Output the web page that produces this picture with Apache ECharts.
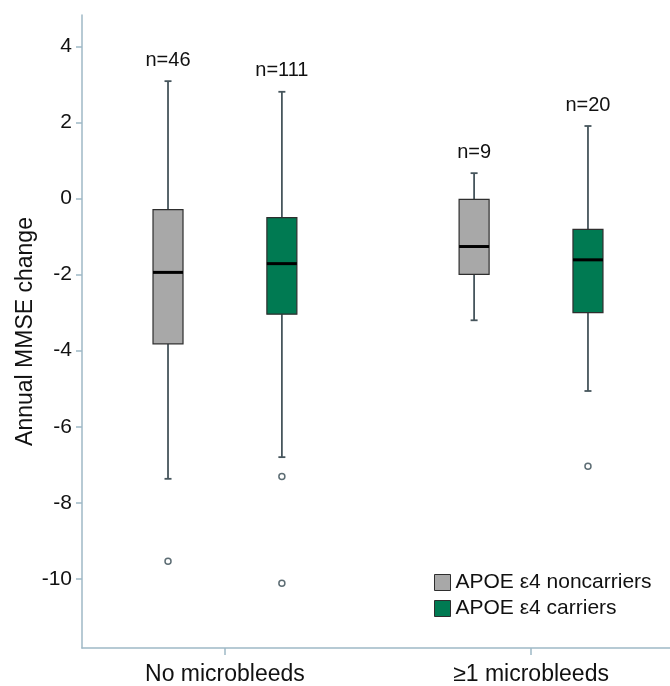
<!DOCTYPE html>
<html lang="en">
<head>
    <meta charset="UTF-8">
    <title>Annual MMSE change</title>
    <script src="https://cdn.jsdelivr.net/npm/echarts@6/dist/echarts.min.js"></script>
</head>
<body style="margin:0;background:#fff">
    <div id="main" style="width:670px;height:686px;"></div>
    <script>
        // x groups and y tick labels
        var groups = ['No microbleeds', '≥1 microbleeds'];
        var yTicks = [-10, -8, -6, -4, -2, 0, 2, 4];

        // box values per group: [min, Q1, median, Q3, max]
        var noncarrierBox = [[-7.37, -3.82, -1.94, -0.29, 3.09], [-3.2, -1.99, -1.26, -0.02, 0.67]];
        var carrierBox = [[-6.8, -3.04, -1.71, -0.5, 2.81], [-5.06, -3.0, -1.61, -0.81, 1.91]];
        var noncarrierN = [46, 9];
        var carrierN = [111, 20];
        // outliers: [group, value]
        var noncarrierOut = [[0, -9.54]];
        var carrierOut = [[0, -7.31], [0, -10.12], [1, -7.04]];

        var font = 'Liberation Sans, Arial, sans-serif';
        var txt = '#111';
        var axisCol = '#9fb9c6';
        var whisker = '#46555c';

        function boxData(box, n) {
            return box.map(function (b, i) { return [i].concat(b).concat([n[i]]); });
        }

        // side: -1 left box, +1 right box
        function boxRenderer(side, fill) {
            return function (params, api) {
                var g = api.value(0);
                var unit = api.size([1, 0])[0];
                var cx = api.coord([g, 0])[0] + side * 0.186 * unit;
                var y = function (d) { return api.coord([g, api.value(d)])[1]; };
                var yMin = y(1), yQ1 = y(2), yMed = y(3), yQ3 = y(4), yMax = y(5);
                var half = 15, cap = 3.5;
                var ls = { stroke: whisker, lineWidth: 1.8 };
                return {
                    type: 'group',
                    children: [
                        { type: 'line', shape: { x1: cx, y1: yMax, x2: cx, y2: yQ3 }, style: ls },
                        { type: 'line', shape: { x1: cx, y1: yQ1, x2: cx, y2: yMin }, style: ls },
                        { type: 'line', shape: { x1: cx - cap, y1: yMax, x2: cx + cap, y2: yMax }, style: ls },
                        { type: 'line', shape: { x1: cx - cap, y1: yMin, x2: cx + cap, y2: yMin }, style: ls },
                        { type: 'rect', shape: { x: cx - half, y: yQ3, width: half * 2, height: yQ1 - yQ3 },
                          style: { fill: fill, stroke: '#2e2e2e', lineWidth: 1.2 } },
                        { type: 'line', shape: { x1: cx - half, y1: yMed, x2: cx + half, y2: yMed },
                          style: { stroke: '#000', lineWidth: 3 } },
                        { type: 'text', x: cx, y: yMax - 21,
                          style: { text: 'n=' + api.value(6), textAlign: 'center', textVerticalAlign: 'middle',
                                   fontSize: 20, fontFamily: font, fill: txt } }
                    ]
                };
            };
        }

        function outRenderer(side) {
            return function (params, api) {
                var g = api.value(0);
                var unit = api.size([1, 0])[0];
                var cx = api.coord([g, 0])[0] + side * 0.186 * unit;
                var cy = api.coord([g, api.value(1)])[1];
                return { type: 'circle', shape: { cx: cx, cy: cy, r: 3 },
                         style: { fill: '#fff', stroke: '#5d6d74', lineWidth: 1.5 } };
            };
        }

        var myChart = echarts.init(document.getElementById('main'));

        var option = {
            animation: false,
            backgroundColor: '#fff',
            grid: { left: 82, right: 0, top: 15, bottom: 38 },
            xAxis: {
                type: 'value',
                min: -0.467,
                max: 1.454,
                axisLine: { onZero: false, lineStyle: { color: axisCol, width: 1.5 } },
                axisTick: { customValues: [0, 1], length: 7, lineStyle: { color: axisCol, width: 1.5 } },
                axisLabel: {
                    customValues: [0, 1],
                    formatter: function (v) { return groups[Math.round(v)]; },
                    fontSize: 23, fontFamily: font, color: txt, margin: 15
                },
                splitLine: { show: false }
            },
            yAxis: {
                type: 'value',
                min: -11.82,
                max: 4.83,
                name: 'Annual MMSE change',
                nameLocation: 'middle',
                nameGap: 45,
                nameMoveOverlap: false,
                nameTextStyle: { fontSize: 23, fontFamily: font, color: txt },
                axisLine: { show: true, onZero: false, lineStyle: { color: axisCol, width: 1.5 } },
                axisTick: { show: true, customValues: yTicks, length: 6, lineStyle: { color: axisCol, width: 1.5 } },
                axisLabel: { customValues: yTicks, fontSize: 21, fontFamily: font, color: txt, margin: 10 },
                splitLine: { show: false }
            },
            legend: {
                orient: 'vertical',
                left: 434,
                top: 572,
                padding: 0,
                itemWidth: 16,
                itemHeight: 16,
                itemGap: 5,
                icon: 'rect',
                textStyle: { fontSize: 21, fontFamily: font, color: txt },
                data: [
                    { name: 'APOE ε4 noncarriers', itemStyle: { borderColor: '#2e2e2e', borderWidth: 1 } },
                    { name: 'APOE ε4 carriers', itemStyle: { borderColor: '#2e2e2e', borderWidth: 1 } }
                ]
            },
            series: [
                {
                    name: 'APOE ε4 noncarriers',
                    type: 'custom',
                    itemStyle: { color: '#a8a8a8' },
                    renderItem: boxRenderer(-1, '#a8a8a8'),
                    encode: { x: 0, y: [1, 2, 3, 4, 5] },
                    data: boxData(noncarrierBox, noncarrierN)
                },
                {
                    name: 'APOE ε4 carriers',
                    type: 'custom',
                    itemStyle: { color: '#007a52' },
                    renderItem: boxRenderer(1, '#007a52'),
                    encode: { x: 0, y: [1, 2, 3, 4, 5] },
                    data: boxData(carrierBox, carrierN)
                },
                {
                    name: 'noncarrier outliers',
                    type: 'custom',
                    renderItem: outRenderer(-1),
                    encode: { x: 0, y: 1 },
                    data: noncarrierOut
                },
                {
                    name: 'carrier outliers',
                    type: 'custom',
                    renderItem: outRenderer(1),
                    encode: { x: 0, y: 1 },
                    data: carrierOut
                }
            ]
        };
        myChart.setOption(option);
    </script>
</body>
</html>
